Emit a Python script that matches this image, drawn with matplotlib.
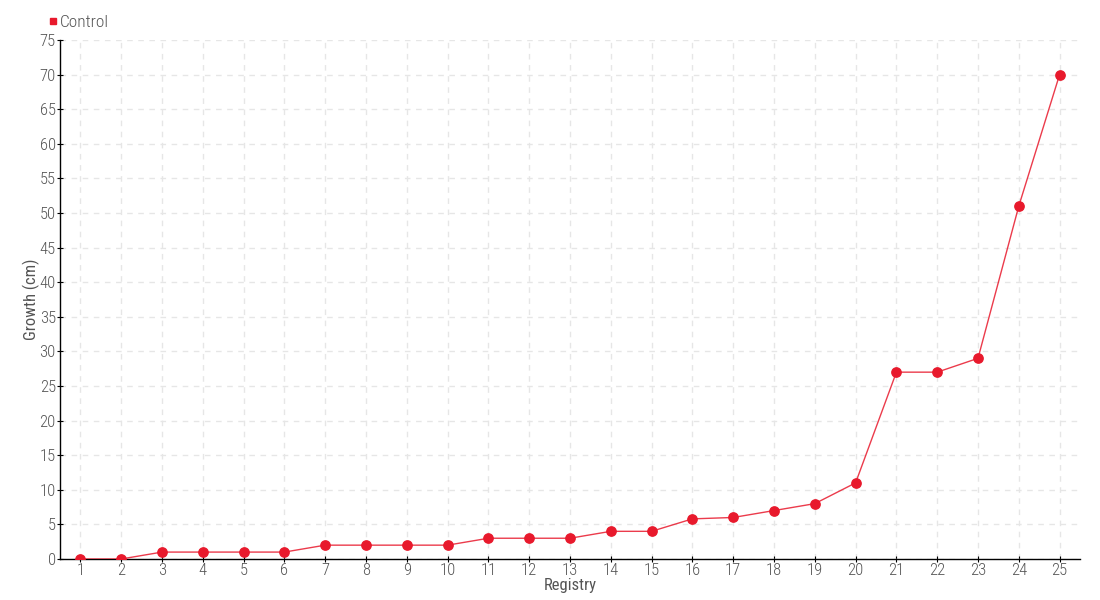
import matplotlib.pyplot as plt
import matplotlib.font_manager as fm
from matplotlib.lines import Line2D

registry = list(range(1, 26))
growth = [0, 0, 1, 1, 1, 1, 2, 2, 2, 2, 3, 3, 3, 4, 4, 5.8, 6, 7, 8, 11,
          27, 27, 29, 51, 70]
series_name = "Control"

names = {f.name for f in fm.fontManager.ttflist}
fam = [n for n in ["Roboto Condensed", "Open Sans Condensed", "Liberation Sans Narrow",
                   "Roboto", "DejaVu Sans"] if n in names]
plt.rcParams["font.family"] = fam
plt.rcParams["font.weight"] = "light"

red = "#e8192c"
txt = "#555555"

fig = plt.figure(figsize=(11, 6), dpi=100)
ax = fig.add_axes([60 / 1100, 1 - 559 / 600, 1020 / 1100, 519 / 600])

ax.plot(registry, growth, color=red, linewidth=1, alpha=0.85, zorder=3)
ax.scatter(registry, growth, color=red, s=45, zorder=4)

ax.set_xlim(0.5, 25.5)
ax.set_ylim(0, 75)
ax.set_xticks(registry)
ax.set_yticks(range(0, 80, 5))
ax.grid(True, linestyle=(0, (4, 4)), color="#e6e6e6", linewidth=1)
ax.set_axisbelow(True)
for s in ["top", "right"]:
    ax.spines[s].set_visible(False)
for s in ["left", "bottom"]:
    ax.spines[s].set_color("black")
    ax.spines[s].set_linewidth(1)
ax.tick_params(colors="black", labelcolor=txt, labelsize=12, length=4,
               direction="inout", pad=1)

ax.set_xlabel("Registry", color=txt, fontsize=12, labelpad=0)
ax.set_ylabel("Growth (cm)", color=txt, fontsize=12, labelpad=0)

handle = Line2D([], [], linestyle="none", marker="s", markersize=5,
                color=red, label=series_name)
ax.legend(handles=[handle], loc="lower left", bbox_to_anchor=(-0.02, 1.0),
          frameon=False, handlelength=0.4, handletextpad=0.15, fontsize=12.5,
          labelcolor=txt, borderaxespad=0.2)

fig.savefig("out.png", dpi=100)
